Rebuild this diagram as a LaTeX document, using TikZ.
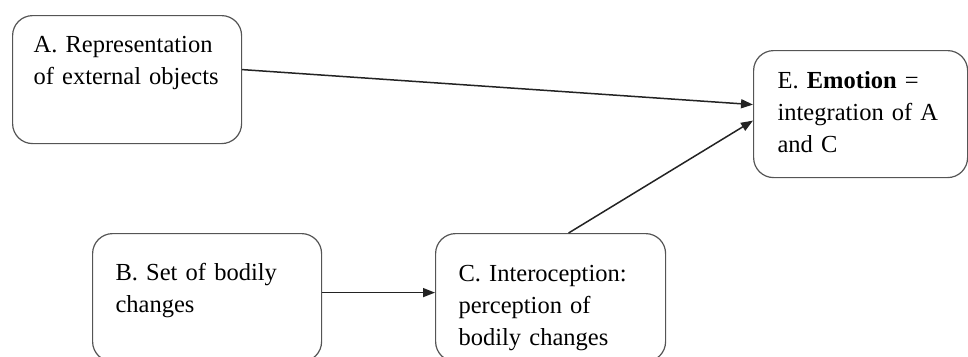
\documentclass[tikz,border=0pt]{standalone}
\usepackage{fontspec}
\setmainfont{Liberation Serif}
\usetikzlibrary{arrows.meta}
\definecolor{boxgray}{RGB}{85,85,85}
\definecolor{arrowgray}{RGB}{35,35,35}
\tikzset{
  box/.style={draw=boxgray, line width=1.2pt, rounded corners=20pt, anchor=north west,
    align=left, inner ysep=0pt, font=\fontsize{24.5}{32}\selectfont},
  link/.style={draw=arrowgray, line width=1.5pt, -{Triangle[length=12pt,width=9pt]}}
}
\begin{document}
\begin{tikzpicture}[x=1pt,y=-1pt]
\useasboundingbox (0,0) rectangle (968,356);

%Shape: Rounded Rectangle A
\node[box, inner xsep=21pt, text width=187pt, text height=37pt, text depth=91pt] (boxA) at (12,15)
  {A. Representation\\of external objects};
%Shape: Rounded Rectangle B
\node[box, inner xsep=23pt, text width=183pt, text height=47pt, text depth=81pt] (boxB) at (92,233)
  {B. Set of bodily\\changes};
%Shape: Rounded Rectangle C
\node[box, inner xsep=23pt, text width=184pt, text height=48pt, text depth=80pt] (boxC) at (435,233)
  {C. Interoception:\\perception of\\bodily changes};
%Shape: Rounded Rectangle E
\node[box, inner xsep=24pt, text width=166pt, text height=38pt, text depth=89pt] (boxE) at (753,50)
  {E. \textbf{Emotion} =\\integration of A\\and C};

%Straight Lines
\draw[link] ([yshift=10pt]boxA.east) -- ([yshift=9.5pt]boxE.west);
\draw[link] ([xshift=18pt]boxC.north) -- ([yshift=-6.5pt]boxE.west);
\draw[link] ([yshift=5pt]boxB.east) -- ([yshift=5pt]boxC.west);
\end{tikzpicture}
\end{document}
